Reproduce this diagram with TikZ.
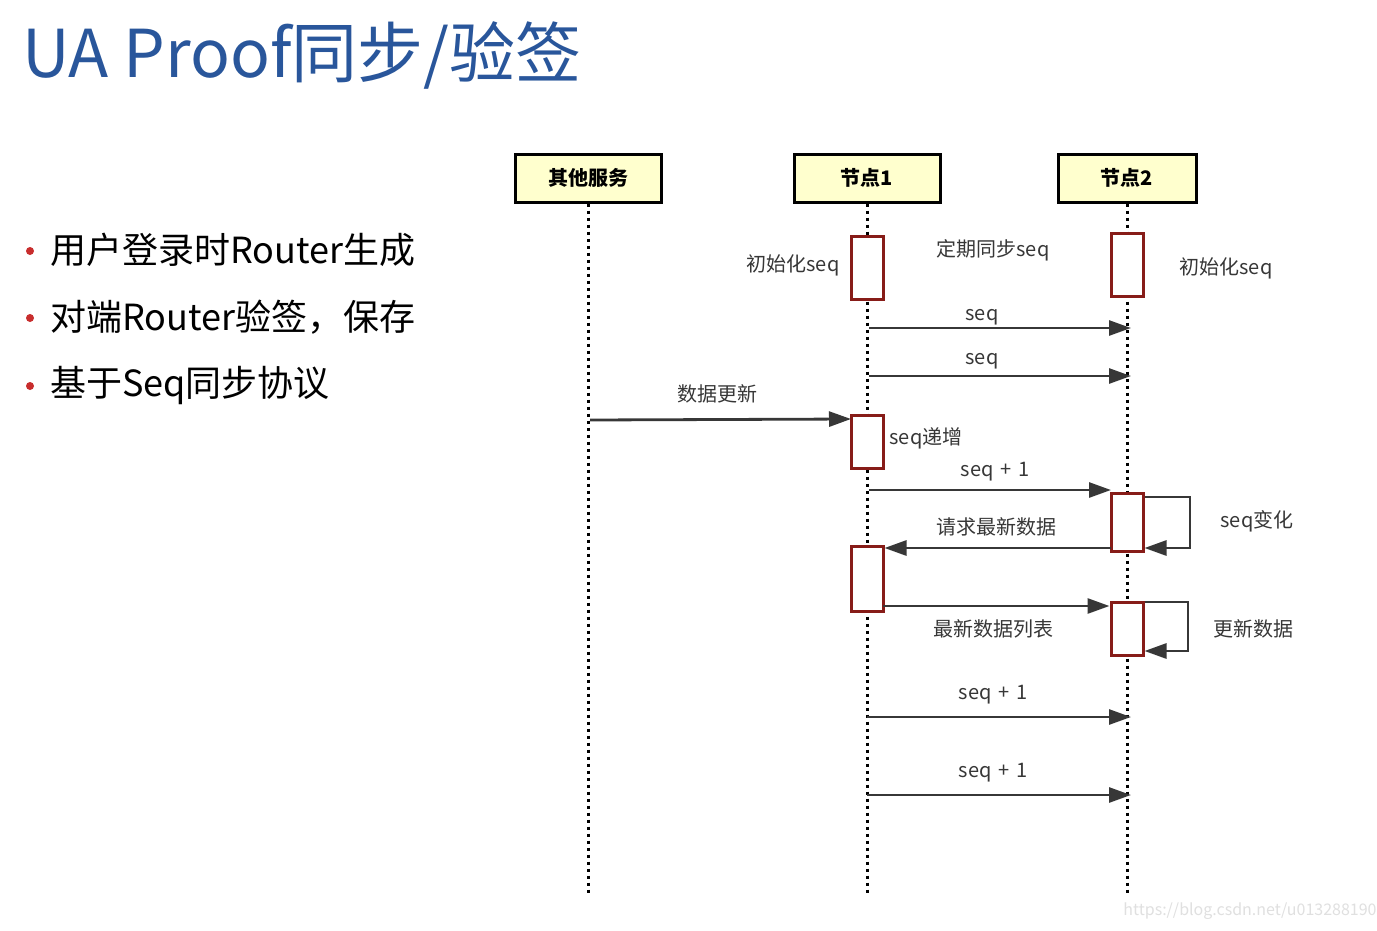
\documentclass[tikz,border=0pt]{standalone}
\usepackage{fontspec}
\newfontfamily\cjk{Noto Sans CJK SC}
\usetikzlibrary{arrows.meta}

\definecolor{titleblue}{RGB}{41,86,155}
\definecolor{dotred}{RGB}{200,45,45}
\definecolor{actred}{RGB}{135,28,24}
\definecolor{hdrfill}{RGB}{255,255,206}
\definecolor{msggray}{RGB}{55,55,55}

\tikzset{
  actor/.style={draw=black, line width=3pt, fill=hdrfill, minimum width=146pt, minimum height=48pt, inner sep=0pt, font=\cjk\fontsize{20}{23}\selectfont\bfseries},
  act/.style={draw=actred, line width=3pt, fill=white, minimum width=32pt, inner sep=0pt},
  life/.style={line width=3pt, dash pattern=on 3pt off 4pt},
  msg/.style={draw=msggray, line width=2.8pt, -{Triangle[length=22pt, width=15pt]}},
  lbl/.style={text=msggray, inner sep=0pt, font=\cjk\fontsize{20}{23}\selectfont},
  dot/.style={circle, fill=dotred, inner sep=0pt, minimum size=8pt},
  bul/.style={anchor=west, inner sep=0pt, font=\cjk\fontsize{36}{40}\selectfont}
}

\begin{document}
\begin{tikzpicture}[x=1pt, y=-1pt]
  \useasboundingbox[fill=white] (0,0) rectangle (1377,930);

  % title and bullets
  \node[anchor=west, inner sep=0pt, text=titleblue, font=\cjk\fontsize{66}{74}\selectfont] (title) at (22,55) {UA Proof同步/验签};
  \node[dot] (d1) at (30,251) {};
  \node[dot] (d2) at (30,318) {};
  \node[dot] (d3) at (30,386) {};
  \node[bul] (b1) at (50,250) {用户登录时Router生成};
  \node[bul] (b2) at (50,317) {对端Router验签，保存};
  \node[bul] (b3) at (50,385) {基于Seq同步协议};

  % participants
  \node[actor] (other) at (588,178) {其他服务};
  \node[actor] (n1) at (867,178) {节点1};
  \node[actor, minimum width=138pt] (n2) at (1127,178) {节点2};
  \coordinate (e0) at (588,893);
  \coordinate (e1) at (867,893);
  \coordinate (e2) at (1127,893);
  \draw[life] (other.south) -- (e0);
  \draw[life] (n1.south) -- (e1);
  \draw[life] (n2.south) -- (e2);

  % activations
  \node[act, minimum height=63pt] (a1) at (867,267.5) {};
  \node[act, minimum height=63pt] (a2) at (1127,264.5) {};
  \node[act, minimum height=53pt] (a3) at (867,441.5) {};
  \node[act, minimum height=58pt] (a4) at (1127,522) {};
  \node[act, minimum height=65pt] (a5) at (867,578.5) {};
  \node[act, minimum height=53pt] (a6) at (1127,628.5) {};

  \node[lbl] (l1) at (793,265) {初始化seq};
  \node[lbl] (l2) at (993,250) {定期同步seq};
  \node[lbl] (l3) at (1226,268) {初始化seq};

  % messages
  \coordinate (p1) at (869,328);
  \coordinate (q1) at (1131,328);
  \draw[msg] (p1) -- (q1);
  \node[lbl] (m1) at (982,317) {seq};
  \coordinate (p2) at (869,376);
  \coordinate (q2) at (1131,376);
  \draw[msg] (p2) -- (q2);
  \node[lbl] (m2) at (982,361) {seq};

  \coordinate (p3) at (590,420);
  \coordinate (q3) at (851,419);
  \draw[msg] (p3) -- (q3);
  \node[lbl] (l4) at (717,394) {数据更新};
  \node[lbl] (l5) at (926,438) {seq递增};

  \coordinate (p4) at (869,490);
  \coordinate (q4) at (1111,490);
  \draw[msg] (p4) -- (q4);
  \node[lbl] (l6) at (995,472) {seq\,\,+\,\,1};

  \coordinate (r1) at (1190,497);
  \coordinate (r2) at (1190,548);
  \draw[msg] (a4.east |- r1) -- (r1) -- (r2) -- (a4.east |- r2);
  \node[lbl] (l7) at (1257,521) {seq变化};

  \coordinate (p5) at (1111,548);
  \draw[msg] (p5) -- (a5.east |- p5);
  \node[lbl] (l8) at (996,527) {请求最新数据};

  \coordinate (p6) at (883,606);
  \draw[msg] (p6) -- (a6.west |- p6);
  \node[lbl] (l9) at (993,629) {最新数据列表};

  \coordinate (r3) at (1188,602);
  \coordinate (r4) at (1188,651);
  \draw[msg] (a6.east |- r3) -- (r3) -- (r4) -- (a6.east |- r4);
  \node[lbl] (l10) at (1253,629) {更新数据};

  \coordinate (p7) at (867,717);
  \coordinate (q7) at (1131,717);
  \draw[msg] (p7) -- (q7);
  \node[lbl] (m7) at (993,695) {seq\,\,+\,\,1};
  \coordinate (p8) at (867,795);
  \coordinate (q8) at (1131,795);
  \draw[msg] (p8) -- (q8);
  \node[lbl] (m8) at (993,773) {seq\,\,+\,\,1};

  % watermark
  \node[text=black!12, inner sep=0pt, font=\cjk\fontsize{16}{18}\selectfont] (wm) at (1250,911) {https://blog.csdn.net/u013288190};
\end{tikzpicture}
\end{document}
